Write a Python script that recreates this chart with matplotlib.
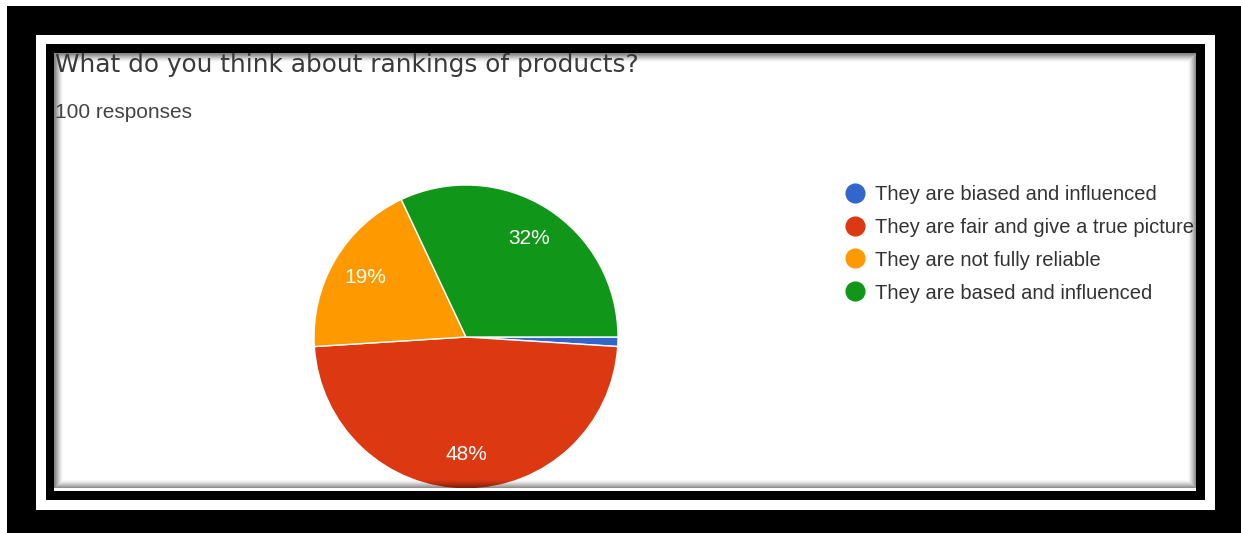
import matplotlib
matplotlib.use("Agg")
import matplotlib.pyplot as plt
from matplotlib.patches import Rectangle

# survey data
title = "What do you think about rankings of products?"
subtitle = "100 responses"
labels = ["They are biased and influenced",
          "They are fair and give a true picture",
          "They are not fully reliable",
          "They are based and influenced"]
values = [1, 48, 19, 32]
colors = ["#3366cc", "#dc3912", "#ff9900", "#109618"]

W, H = 1241, 533
fig = plt.figure(figsize=(W / 100, H / 100), dpi=100)
ax = fig.add_axes([0, 0, 1, 1])

def rect(x0, y0, x1, y1, color, z, **kw):
    ax.add_patch(Rectangle((x0, y0), x1 - x0, y1 - y0, facecolor=color,
                           edgecolor="none", zorder=z, **kw))

# frame behind the chart
rect(7, 6, W, H, "black", 0)
rect(36, 35, 1215, 510, "white", 0.1)
rect(46, 44, 1205, 500, "black", 0.2)
rect(54, 53, 1196, 491, "white", 0.3)

def pct(p):
    return "%d%%" % round(p) if p >= 5 else ""

wedges, texts, autotexts = ax.pie(
    values, colors=colors, center=(466, 337), radius=152,
    startangle=0, counterclock=True, frame=True, autopct=pct,
    pctdistance=0.77,
    wedgeprops=dict(edgecolor="white", linewidth=1),
    textprops=dict(color="white", fontsize=15, family="Liberation Sans"))
for w in wedges:
    w.set_zorder(1)
for t in autotexts:
    t.set_zorder(2)

# inner shadow of the screenshot card
for i in range(9):
    a = 0.45 * (1 - i / 9) ** 1.5
    ax.add_patch(Rectangle((54 + i, 53 + i), 1196 - 54 - 2 * i, 488 - 53 - 2 * i,
                           fill=False, edgecolor="black", alpha=a,
                           linewidth=0.9, zorder=3))
rect(54, 488, 1196, 491, "white", 3.1)

# legend
for i, (lab, c) in enumerate(zip(labels, colors)):
    y = 193 + i * 32.7
    ax.plot(855, y, "o", color=c, markersize=13.5, zorder=2)
    ax.text(875, y + 7.5, lab, fontsize=14.5, color="#333333", va="baseline",
            family="Liberation Sans", zorder=2)

ax.text(55, 72, title, fontsize=17.8, color="#3a3a3a", va="baseline",
        family="DejaVu Sans", zorder=4)
ax.text(55, 118, subtitle, fontsize=15, color="#444444", va="baseline",
        family="Liberation Sans", zorder=4)

# frame in front (cuts the pie and legend text)
rect(1196, 44, 1205, 500, "black", 5)
rect(1205, 35, 1215, 510, "white", 5)
rect(1215, 6, W, H, "black", 5)
rect(46, 491, 1205, 500, "black", 5)
rect(36, 500, 1215, 510, "white", 5)
rect(7, 510, W, H, "black", 5)

ax.set_xlim(0, W)
ax.set_ylim(H, 0)
ax.axis("off")
fig.savefig("out.png", dpi=100, facecolor="white")
